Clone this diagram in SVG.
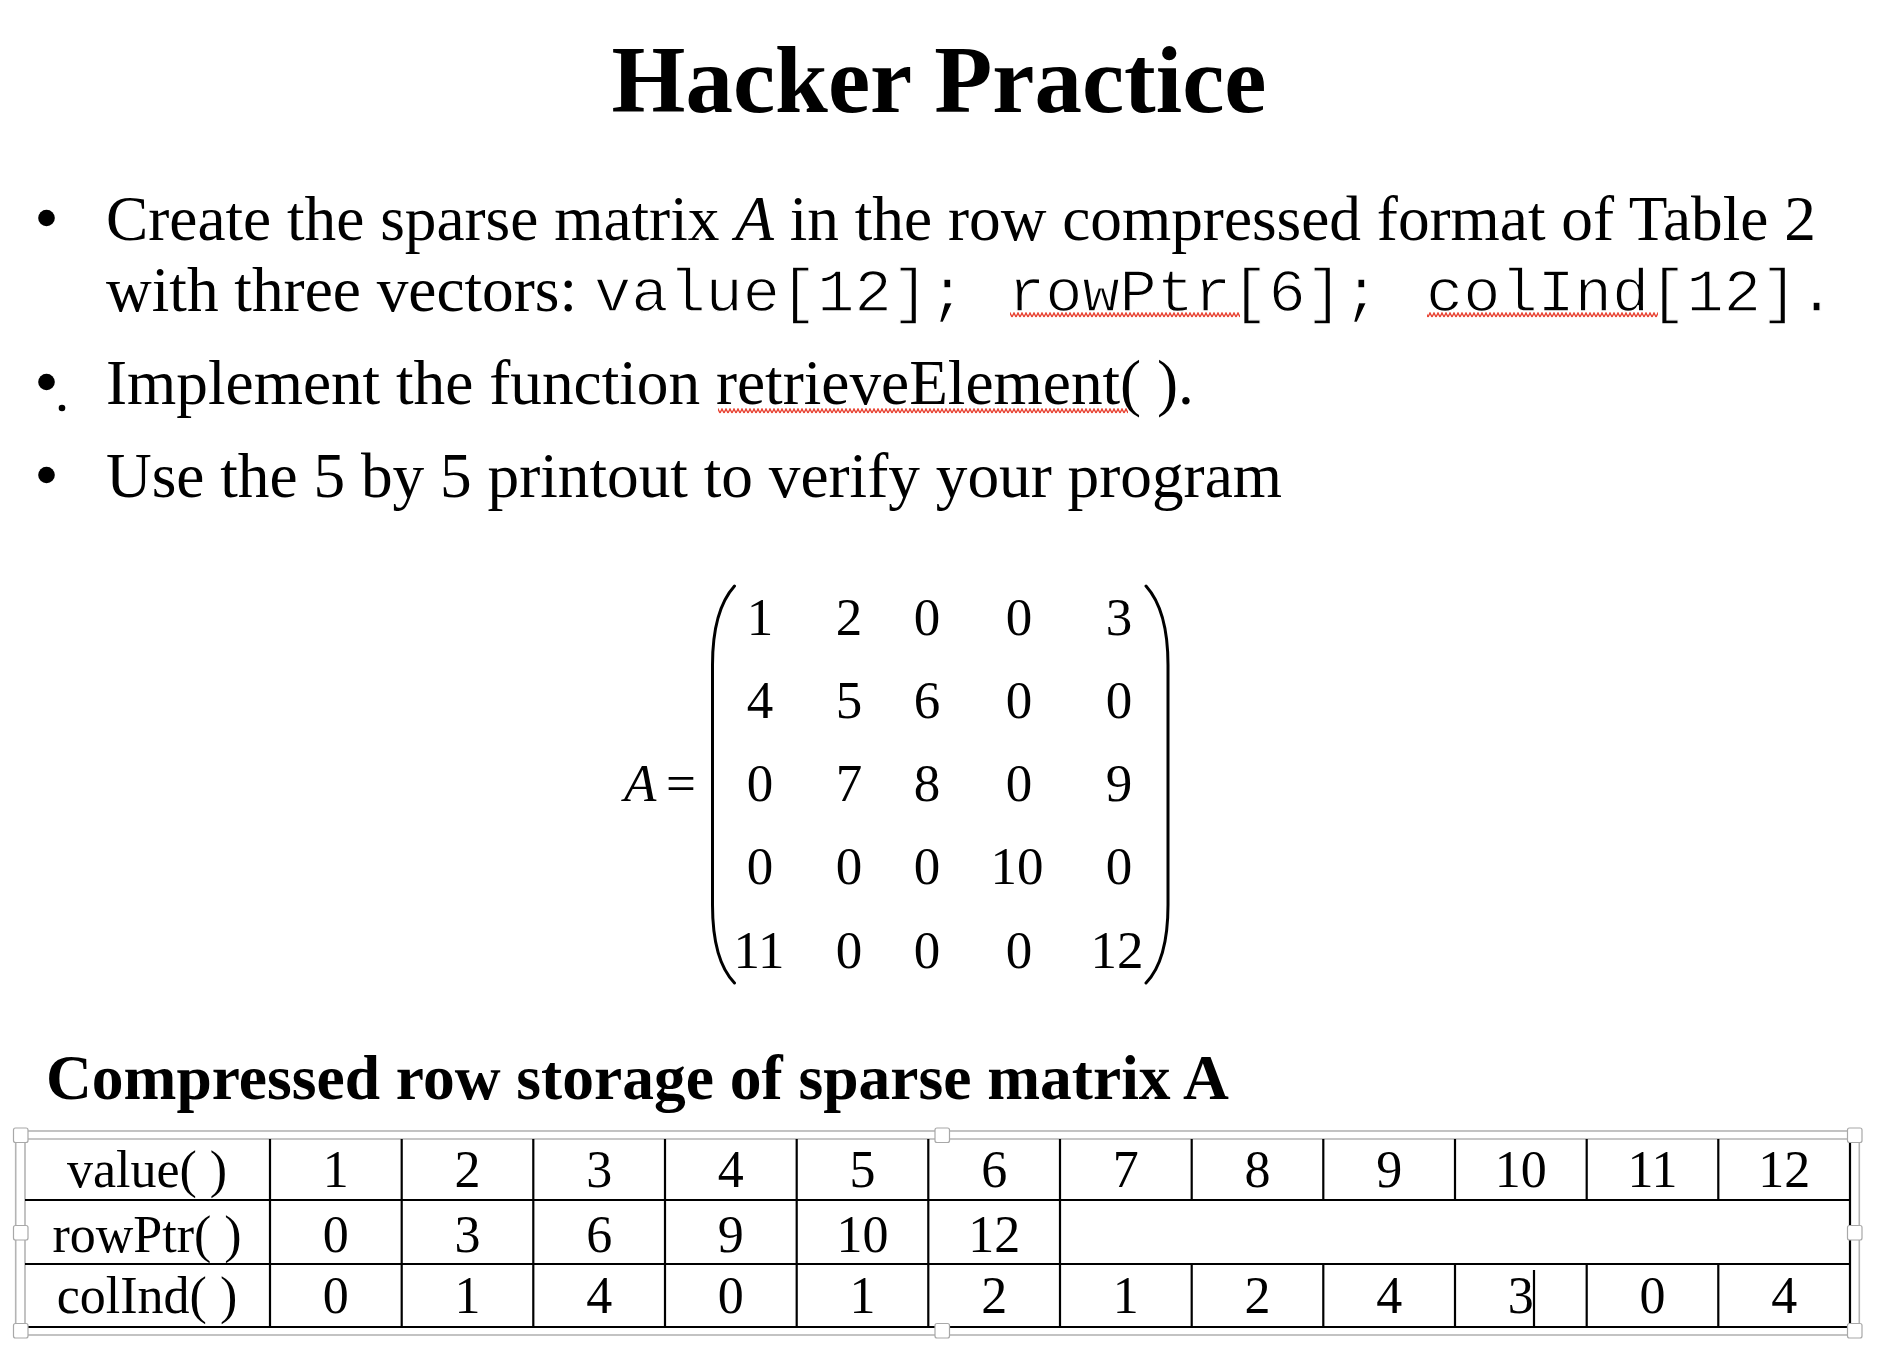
<svg xmlns="http://www.w3.org/2000/svg" width="1884" height="1370" viewBox="0 0 1884 1370">
<defs>
<style>
.serif{font-family:"Liberation Serif","Times New Roman",serif;fill:#000}
.mono{font-family:"Liberation Mono","Courier New",monospace;fill:#000;font-size:62px;stroke:#fff;stroke-width:1.3}
.title{font-size:95px;font-weight:bold}
.body{font-size:63.3px}
.sub{font-size:63.5px;font-weight:bold}
.mx{font-size:53px;text-anchor:middle}
.tb{font-size:52px;text-anchor:middle}
.grid{stroke:#000;stroke-width:2.2;fill:none}
.frame{stroke:#b4b4b4;stroke-width:1.6;fill:none}
.handle{fill:#fff;stroke:#a8a8a8;stroke-width:1.2}
.paren{fill:none;stroke:#000;stroke-width:3;stroke-linecap:round}
</style>
<pattern id="squiggle" patternUnits="userSpaceOnUse" x="0" y="0" width="4" height="6">
<path d="M0,5 L2,1 L4,5" fill="none" stroke="#e8402f" stroke-width="1.4"/>
</pattern>
</defs>
<rect width="1884" height="1370" fill="#fff"/>

<g id="title">
<text class="serif title" x="939" y="112" text-anchor="middle">Hacker Practice</text>
</g>

<g id="bullets">
<circle cx="46.5" cy="218" r="8.3" fill="#000"/>
<text class="serif body" x="106" y="240">Create the sparse matrix <tspan font-style="italic">A</tspan> in the row compressed format of Table 2</text>
<text class="serif body" x="106" y="311">with three vectors: </text>
<text class="mono" x="594" y="311">value[12];</text>
<text class="mono" x="1008" y="311">rowPtr[6];</text>
<text class="mono" x="1426" y="311">colInd[12].</text>
<rect x="1010" y="312" width="230" height="6" fill="url(#squiggle)"/>
<rect x="1427" y="312" width="231" height="6" fill="url(#squiggle)"/>

<circle cx="46.5" cy="382" r="8.3" fill="#000"/>
<circle cx="62" cy="408" r="3.3" fill="#000"/>
<text class="serif body" x="106" y="404">Implement the function retrieveElement( ).</text>
<rect x="718" y="408" width="410" height="6" fill="url(#squiggle)"/>

<circle cx="46.5" cy="475" r="8.3" fill="#000"/>
<text class="serif body" x="106" y="497">Use the 5 by 5 printout to verify your program</text>
</g>

<g id="matrix">
<text class="serif" x="624" y="801" font-size="53" font-style="italic">A</text>
<text class="serif" x="666" y="801" font-size="53">=</text>
<path class="paren" d="M734.5,586 C721,601 712.5,625 712.5,665 L712.5,905 C712.5,945 721,969 734.5,983"/>
<path class="paren" d="M1146,586 C1159.5,601 1168,625 1168,665 L1168,905 C1168,945 1159.5,969 1146,983"/>
<g class="serif mx">
<text x="760" y="635">1</text><text x="849" y="635">2</text><text x="927" y="635">0</text><text x="1019" y="635">0</text><text x="1119" y="635">3</text>
<text x="760" y="718">4</text><text x="849" y="718">5</text><text x="927" y="718">6</text><text x="1019" y="718">0</text><text x="1119" y="718">0</text>
<text x="760" y="801">0</text><text x="849" y="801">7</text><text x="927" y="801">8</text><text x="1019" y="801">0</text><text x="1119" y="801">9</text>
<text x="760" y="884">0</text><text x="849" y="884">0</text><text x="927" y="884">0</text><text x="1017" y="884">10</text><text x="1119" y="884">0</text>
<text x="759" y="968">11</text><text x="849" y="968">0</text><text x="927" y="968">0</text><text x="1019" y="968">0</text><text x="1117" y="968">12</text>
</g>
</g>

<g id="subtitle">
<text class="serif sub" x="46" y="1099">Compressed row storage of sparse matrix A</text>
</g>

<g id="table">
<rect class="frame" x="15.7" y="1131" width="1843.6" height="204"/>
<path class="frame" d="M25,1327 L25,1139 L1850,1139"/>
<g class="grid">
<path d="M25,1200 H1850 M25,1264 H1850 M25,1327 H1850 M1850,1139 V1327"/>
<path d="M270,1139 V1327 M401.7,1139 V1327 M533.3,1139 V1327 M665,1139 V1327 M796.7,1139 V1327 M928.3,1139 V1327 M1060,1139 V1327"/>
<path d="M1191.7,1139 V1200 M1323.3,1139 V1200 M1455,1139 V1200 M1586.7,1139 V1200 M1718.3,1139 V1200"/>
<path d="M1191.7,1264 V1327 M1323.3,1264 V1327 M1455,1264 V1327 M1586.7,1264 V1327 M1718.3,1264 V1327"/>
<path d="M1534,1270 V1326"/>
</g>
<g class="serif tb">
<text x="147" y="1187">value( )</text>
<text x="335.8" y="1187">1</text><text x="467.5" y="1187">2</text><text x="599.2" y="1187">3</text><text x="730.8" y="1187">4</text><text x="862.5" y="1187">5</text><text x="994.2" y="1187">6</text><text x="1125.8" y="1187">7</text><text x="1257.5" y="1187">8</text><text x="1389.2" y="1187">9</text><text x="1520.8" y="1187">10</text><text x="1652.5" y="1187">11</text><text x="1784.2" y="1187">12</text>
<text x="147" y="1252">rowPtr( )</text>
<text x="335.8" y="1252">0</text><text x="467.5" y="1252">3</text><text x="599.2" y="1252">6</text><text x="730.8" y="1252">9</text><text x="862.5" y="1252">10</text><text x="994.2" y="1252">12</text>
<text x="147" y="1313">colInd( )</text>
<text x="335.8" y="1313">0</text><text x="467.5" y="1313">1</text><text x="599.2" y="1313">4</text><text x="730.8" y="1313">0</text><text x="862.5" y="1313">1</text><text x="994.2" y="1313">2</text><text x="1125.8" y="1313">1</text><text x="1257.5" y="1313">2</text><text x="1389.2" y="1313">4</text><text x="1520.8" y="1313">3</text><text x="1652.5" y="1313">0</text><text x="1784.2" y="1313">4</text>
</g>
<g id="handles">
<rect class="handle" x="13.5" y="1128" width="14.5" height="14.5" rx="2"/>
<rect class="handle" x="935" y="1128" width="14.5" height="14.5" rx="2"/>
<rect class="handle" x="1847.5" y="1128" width="14.5" height="14.5" rx="2"/>
<rect class="handle" x="13.5" y="1225.5" width="14.5" height="14.5" rx="2"/>
<rect class="handle" x="1847.5" y="1225.5" width="14.5" height="14.5" rx="2"/>
<rect class="handle" x="13.5" y="1323.5" width="14.5" height="14.5" rx="2"/>
<rect class="handle" x="935" y="1323.5" width="14.5" height="14.5" rx="2"/>
<rect class="handle" x="1847.5" y="1323.5" width="14.5" height="14.5" rx="2"/>
</g>
</g>
</svg>
